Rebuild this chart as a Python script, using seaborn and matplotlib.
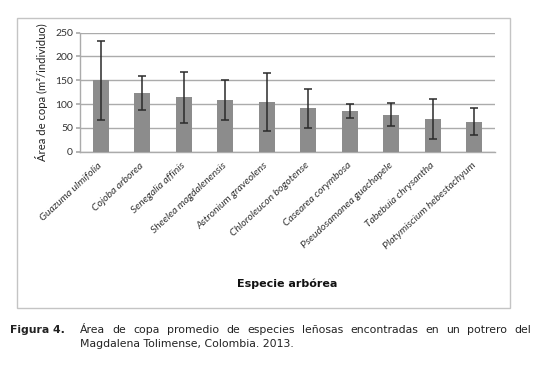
import matplotlib
matplotlib.use("Agg")
import matplotlib.pyplot as plt
import pandas as pd
import seaborn as sns
from matplotlib.patches import Rectangle

especies = [
    "Guazuma ulmifolia",
    "Cojoba arborea",
    "Senegalia affinis",
    "Sheelea magdalenensis",
    "Astronium graveolens",
    "Chloroleucon bogotense",
    "Casearea corymbosa",
    "Pseudosamanea guachapele",
    "Tabebuia chrysantha",
    "Platymiscium hebestachyum",
]
area_media = [150, 124, 114, 108, 104, 91, 85, 78, 68, 63]
desv_est = [83, 36, 53, 42, 61, 41, 15, 25, 42, 28]
y_ticks = [0, 50, 100, 150, 200, 250]

df = pd.DataFrame({"especie": especies, "area": area_media, "sd": desv_est})

sns.set_theme(style="white")
plt.rcParams["font.family"] = ["Lato", "DejaVu Sans"]

fig = plt.figure(figsize=(5.49, 3.8), dpi=100)
ax = fig.add_axes([0.1457, 0.6008, 0.7559, 0.3132])

sns.barplot(data=df, x="especie", y="area", color="#8c8c8c", saturation=1,
            width=0.39, errorbar=None, linewidth=0, ax=ax, zorder=3)
ax.errorbar(range(len(df)), df["area"], yerr=df["sd"], fmt="none",
            ecolor="#2b2b2b", elinewidth=1.1, capsize=3, capthick=1.1, zorder=4)

ax.set_ylim(0, 250)
ax.set_yticks(y_ticks)
ax.set_xlim(-0.5, len(df) - 0.5)
ax.yaxis.grid(True, color="#ababab", linewidth=1, zorder=0)
ax.set_axisbelow(True)
for s in ["top", "right"]:
    ax.spines[s].set_visible(False)
for s in ["left", "bottom"]:
    ax.spines[s].set_color("#ababab")
    ax.spines[s].set_linewidth(1)
ax.tick_params(axis="y", length=3, color="#ababab", labelsize=7.5, pad=2,
               labelcolor="#333333", left=True)
ax.tick_params(axis="x", length=0, pad=9)
ax.set_xticks(range(len(df)))
ax.set_xticklabels(especies, rotation=43, ha="right", va="center",
                   rotation_mode="anchor", fontsize=7.5, style="italic",
                   color="#333333")

ax.set_xlabel("")
ax.set_ylabel("Área de copa (m²/individuo)", fontsize=8.1, color="#222222",
              labelpad=5)
fig.text(0.524, 1 - 284 / 380, "Especie arbórea", ha="center", va="center",
         fontsize=8, fontweight="bold", family="DejaVu Sans", color="#111111")

# chart frame
fig.patches.append(Rectangle((17 / 549, 1 - 308 / 380), 493 / 549, 290.5 / 380,
                             transform=fig.transFigure, fill=False,
                             edgecolor="#c4c4c4", linewidth=1))

# caption
cap_font = dict(family="DejaVu Sans", fontsize=7.8, color="#222222")
fig.text(10 / 549, 1 - 330 / 380, "Figura 4.", ha="left", va="center",
         fontweight="bold", **cap_font)
linea1 = "Área de copa promedio de especies leñosas encontradas en un potrero del"
linea2 = "Magdalena Tolimense, Colombia. 2013."
x0, x1 = 80 / 549, 531 / 549
renderer = fig.canvas.get_renderer()
palabras = linea1.split()
textos = [fig.text(0, 0, w, ha="left", va="center", **cap_font) for w in palabras]
anchos = [t.get_window_extent(renderer).width / fig.bbox.width for t in textos]
hueco = (x1 - x0 - sum(anchos)) / (len(palabras) - 1)
x = x0
for t, w in zip(textos, anchos):
    t.set_position((x, 1 - 330 / 380))
    x += w + hueco
fig.text(x0, 1 - 344 / 380, linea2, ha="left", va="center", **cap_font)

fig.savefig("out.png", dpi=100)
